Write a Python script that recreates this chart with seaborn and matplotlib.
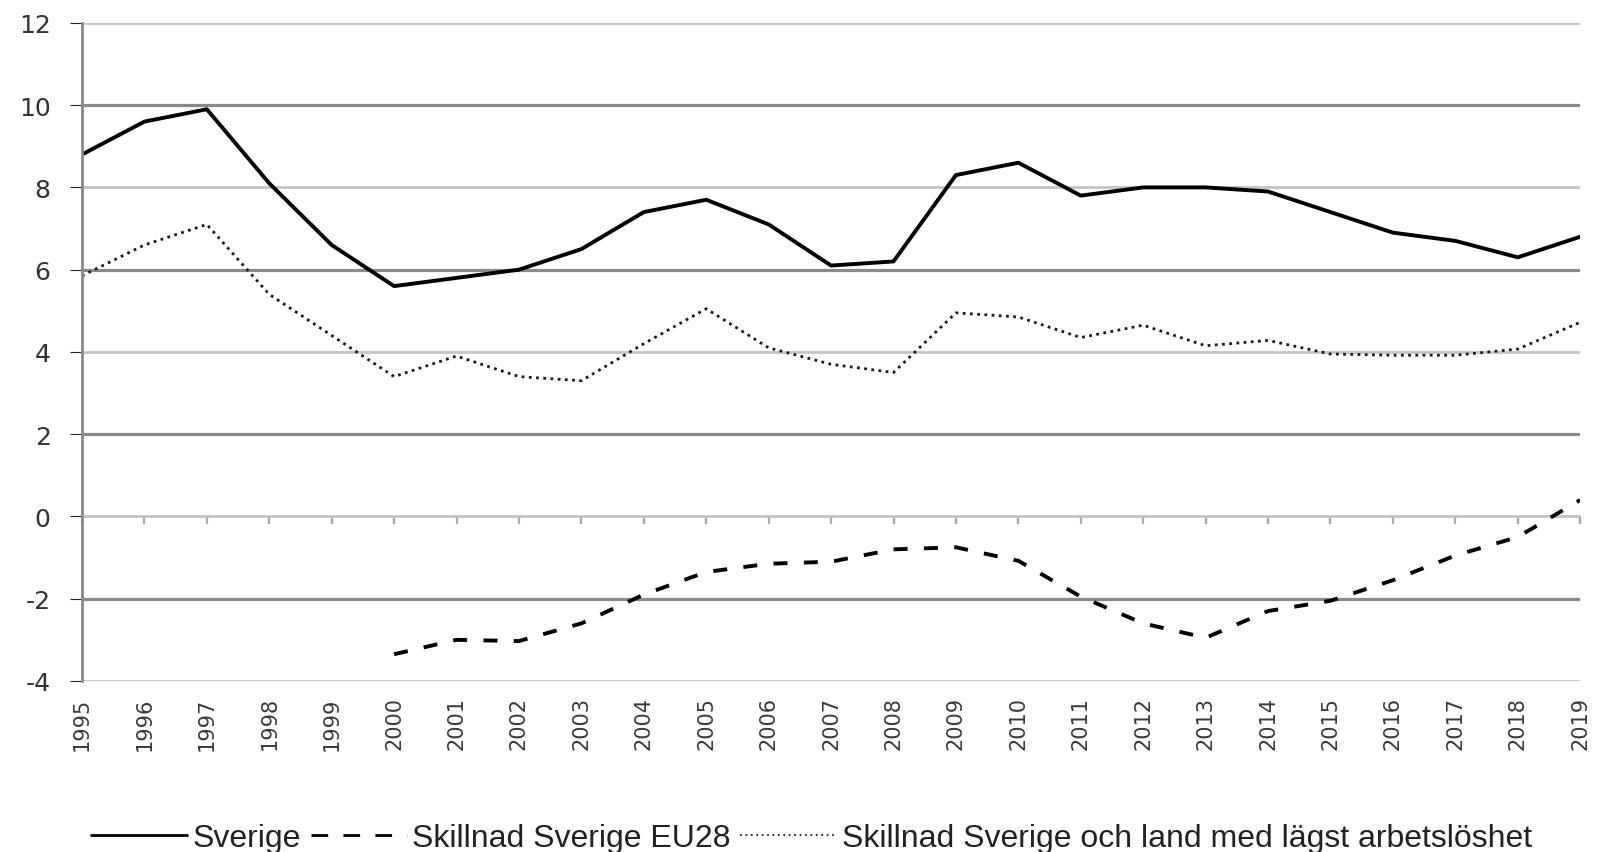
import matplotlib
matplotlib.use("Agg")
import matplotlib.pyplot as plt
import seaborn as sns
import pandas as pd
from matplotlib.lines import Line2D

years = list(range(1995, 2020))
sverige = [8.8, 9.6, 9.9, 8.1, 6.6, 5.6, 5.8, 6.0, 6.5, 7.4, 7.7, 7.1, 6.1,
           6.2, 8.3, 8.6, 7.8, 8.0, 8.0, 7.9, 7.4, 6.9, 6.7, 6.3, 6.8]
eu28 = [None] * 5 + [-3.35, -3.0, -3.03, -2.6, -1.9, -1.35, -1.15, -1.1, -0.8,
                     -0.75, -1.08, -1.95, -2.6, -2.95, -2.3, -2.05, -1.55,
                     -0.95, -0.5, 0.4]
lagst = [5.85, 6.6, 7.1, 5.4, 4.4, 3.4, 3.9, 3.4, 3.3, 4.2, 5.05, 4.1, 3.7,
         3.5, 4.95, 4.85, 4.35, 4.65, 4.15, 4.28, 3.95, 3.92, 3.92, 4.07, 4.72]
labels = ["Sverige", "Skillnad Sverige EU28",
          "Skillnad Sverige och land med lägst arbetslöshet"]
yticks = [-4, -2, 0, 2, 4, 6, 8, 10, 12]

sns.set_style("white")
plt.rcParams["font.family"] = ["Liberation Sans", "DejaVu Sans"]
plt.rcParams["axes.unicode_minus"] = False

df = pd.DataFrame({"year": years, "sverige": sverige,
                   "eu28": pd.array(eu28, dtype="Float64"), "lagst": lagst})

fig = plt.figure(figsize=(16.01, 8.53), dpi=100)
ax = fig.add_axes([0.0512, 0.2005, 0.9358, 0.7715])

ax.set_ylim(-4, 12)
ax.set_yticks(yticks)
ax.set_xlim(1995, 2019)
ax.grid(axis="y", linewidth=2.0, color="#c4c4c4")
ax.set_axisbelow(True)

sns.lineplot(data=df, x="year", y="sverige", ax=ax, color="black",
             linewidth=2.8, label=labels[0], legend=False)
d2 = df.dropna(subset=["eu28"]).astype({"eu28": float})
sns.lineplot(data=d2, x="year", y="eu28", ax=ax, color="black",
             linewidth=2.8, label=labels[1], legend=False)
ax.lines[-1].set_dashes((3.6, 4.2))
sns.lineplot(data=df, x="year", y="lagst", ax=ax, color="#1a1a1a",
             linewidth=2.0, label=labels[2], legend=False)
ax.lines[-1].set_dashes((1, 1.6))

# alternate gridline shades as in reference
for val, gl, tk in zip(yticks, ax.yaxis.get_gridlines(), ax.yaxis.get_major_ticks()):
    dark = (val % 4 == 2)
    c = "#8a8a8a" if dark else "#c4c4c4"
    gl.set_color(c)
    gl.set_linewidth(2.3 if dark else 2.0)
    tk.tick1line.set_color(c)
    tk.tick1line.set_markeredgewidth(2.3 if dark else 2.0)

ax.tick_params(axis="y", direction="out", length=8.5, pad=14,
               labelsize=18, labelcolor="#333333", left=True)
for lab in ax.get_yticklabels():
    lab.set_fontfamily("DejaVu Sans")
ax.set_xticks(years)
ax.set_xticklabels([str(y) for y in years], rotation=90, fontfamily="DejaVu Sans")
ax.tick_params(axis="x", length=0, pad=11, labelsize=15, labelcolor="#3a3a3a")
for lab in ax.get_xticklabels():
    lab.set_verticalalignment("top")

for s in ["top", "right", "bottom"]:
    ax.spines[s].set_visible(False)
ax.spines["left"].set_color("#8a8a8a")
ax.spines["left"].set_linewidth(2.0)
ax.set_xlabel("")
ax.set_ylabel("")

# category-axis tick marks at y = 0
sec = ax.secondary_xaxis(0.25)
sec.set_xticks(years)
sec.set_xticklabels([])
sec.tick_params(axis="x", direction="out", length=6, width=1.6, color="#a8a8a8")
for s in sec.spines.values():
    s.set_visible(False)

handles = [Line2D([], [], color="black", linewidth=2.0),
           Line2D([], [], color="black", linewidth=2.0, dashes=(6, 5.5)),
           Line2D([], [], color="#222222", linewidth=1.3, dashes=(1, 2.0))]
fig.legend(handles, labels, loc="center", bbox_to_anchor=(0.507, 0.016),
           ncol=3, frameon=False, fontsize=23, handlelength=3.0,
           handletextpad=0.18, columnspacing=0.3, borderpad=0,
           labelcolor="#222222")

fig.savefig("out.png", dpi=100)
